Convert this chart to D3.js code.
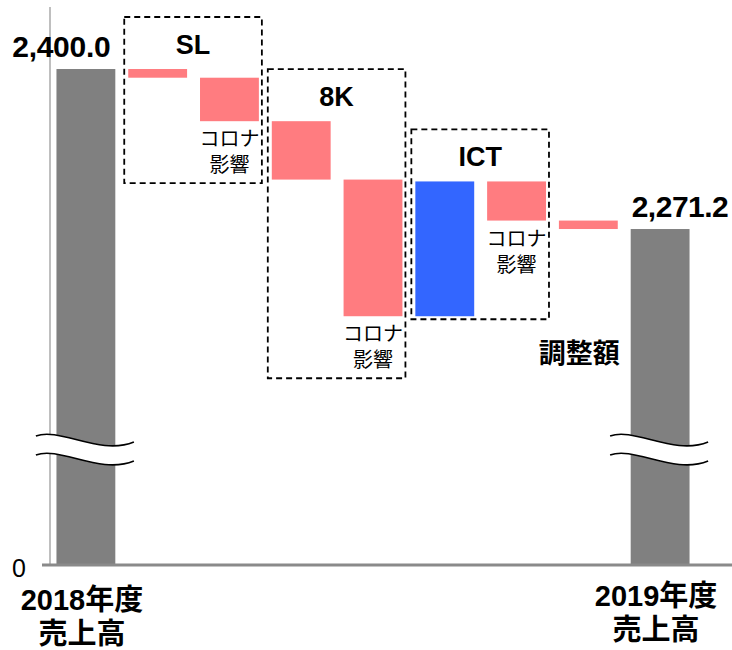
<!DOCTYPE html>
<html><head><meta charset="utf-8">
<script src="https://cdn.jsdelivr.net/npm/d3@7"></script>
<style>
html,body{margin:0;padding:0;background:#fff;}
svg{display:block;}
</style></head>
<body>
<svg id="chart" width="732" height="650"></svg>
<script>
// ---- data ----
const categories = ["2018年度売上高","SL","SLコロナ影響","8K","8Kコロナ影響","ICT","ICTコロナ影響","調整額","2019年度売上高"];
const values = [2400.0, -7.0, -35.0, -47.0, -110.0, 108.5, -31.5, -6.8, 2271.2];
const kinds = ["total","delta","delta","delta","delta","delta","delta","delta","total"];
const notes = ["", "", "コロナ|影響", "", "コロナ|影響", "", "コロナ|影響", "調整額", ""];
const totalLabels = [["2018年度","売上高"], ["2019年度","売上高"]];
const groupNames = ["SL","8K","ICT"];
const groupFrom = [1,3,5];
const groupTo = [2,4,6];
const yTickLabels = ["0"];

// ---- layout ----
const svg = d3.select("#chart");
const LAT = "'Liberation Sans', Arial, sans-serif";
const CJK = "'Liberation Sans', 'Noto Sans CJK JP', sans-serif";
const colors = {total:"#808080", down:"#FF7C80", up:"#3366FF"};

const x = d3.scaleBand().domain(categories).range([50, 696]).paddingInner(0.18).paddingOuter(0.09);
const bw = x.bandwidth();
// broken axis: lower part compressed
const y = d3.scaleLinear().domain([0, 2100, 2450]).range([565, 441.7, 6.9]);

// compute waterfall
let level = 0;
const bars = categories.map((c,i)=>{
  let lo, hi, color;
  if (kinds[i]==="total"){ lo=0; hi=values[i]; level=values[i]; color=colors.total; }
  else { const s=level, e=level+values[i]; lo=Math.min(s,e); hi=Math.max(s,e); level=e; color = values[i]<0?colors.down:colors.up; }
  return {c, i, lo, hi, color, v: values[i]};
});

// axis line
svg.append("line").attr("x1",50).attr("x2",50).attr("y1",y(2450)).attr("y2",y(0))
  .attr("stroke","#aaaaaa").attr("stroke-width",1.5);

// bars
svg.selectAll("rect.bar").data(bars).enter().append("rect")
  .attr("class","bar")
  .attr("x",d=>x(d.c)).attr("width",bw)
  .attr("y",d=>y(d.hi)).attr("height",d=>y(d.lo)-y(d.hi))
  .attr("fill",d=>d.color);

// baseline
svg.append("line").attr("x1",42).attr("x2",732).attr("y1",y(0)).attr("y2",y(0))
  .attr("stroke","#8a8a8a").attr("stroke-width",3);

// y tick
svg.append("text").attr("x",26).attr("y",y(0)+12).attr("text-anchor","end")
  .attr("font-family",LAT).attr("font-size",25).text(yTickLabels[0]);

// break marks on total bars
const yb = 436;
bars.filter(d=>d.i===0||d.i===categories.length-1).forEach(d=>{
  const cx = x(d.c)+bw/2;
  const x0=cx-50, x3=cx+48;
  const wave = (off)=>`M${x0},${yb+off} C${x0+24},${yb-9+off} ${x0+64},${yb+20+off} ${x3},${yb+6+off}`;
  const p1 = `M${x0},${yb} C${x0+24},${yb-9} ${x0+64},${yb+20} ${x3},${yb+6} L${x3},${yb+6+19} C${x0+64},${yb+20+19} ${x0+24},${yb-9+19} ${x0},${yb+19} Z`;
  svg.append("path").attr("d",p1).attr("fill","#fff").attr("stroke","none");
  svg.append("path").attr("d",wave(0)).attr("fill","none").attr("stroke","#000").attr("stroke-width",1.6);
  svg.append("path").attr("d",wave(19)).attr("fill","none").attr("stroke","#000").attr("stroke-width",1.6);
});

// total value labels
const fmt = d3.format(",.1f");
const first = bars[0], last = bars[bars.length-1];
svg.append("text").attr("x",x(first.c)+bw-5).attr("y",y(first.hi)-12).attr("text-anchor","end")
  .attr("font-family",LAT).attr("font-weight","bold").attr("font-size",30).attr("letter-spacing",-0.3).text(fmt(first.v));
svg.append("text").attr("x",x(last.c)+1).attr("y",y(last.hi)-12).attr("text-anchor","start")
  .attr("font-family",LAT).attr("font-weight","bold").attr("font-size",30).attr("letter-spacing",-0.5).text(fmt(last.v));

// category labels for totals
[first,last].forEach((d,k)=>{
  const t = svg.append("text").attr("text-anchor","middle").attr("font-family",CJK)
    .attr("font-weight","bold").attr("font-size",29);
  const cx = x(d.c)+bw/2-4;
  const dy = k===0 ? 45 : 41;
  totalLabels[k].forEach((s,j)=>{
    t.append("tspan").attr("x",cx).attr("y",y(0)+dy+j*34).text(s);
  });
});

// notes under delta bars
bars.forEach(d=>{
  const n = notes[d.i]; if(!n) return;
  const cx = x(d.c)+bw/2;
  if (n.includes("|")){
    const lines = n.split("|");
    lines.forEach((s,j)=>svg.append("text").attr("text-anchor","middle")
      .attr("font-family",CJK).attr("font-size",20)
      .attr("x",cx).attr("y",y(d.lo)+25+j*26).text(s));
  } else {
    svg.append("text").attr("x",cx-9).attr("y",y(d.lo)+134).attr("text-anchor","middle")
      .attr("font-family",CJK).attr("font-weight","bold").attr("font-size",27).text(n);
  }
});

// group boxes
groupNames.forEach((g,k)=>{
  const gb = bars.slice(groupFrom[k], groupTo[k]+1);
  const left = x(gb[0].c)-4, right = x(gb[gb.length-1].c)+bw+3;
  const topY = d3.min(gb, d=>y(d.hi));
  const lowBar = d3.max(gb, d=>y(d.lo));
  const noteBottom = d3.max(gb, d=>notes[d.i].includes("|") ? y(d.lo)+62 : 0);
  const bottom = Math.max(lowBar+3, noteBottom);
  const titleY = topY - 15;
  const top = titleY - 37;
  svg.append("rect").attr("x",left).attr("y",top).attr("width",right-left).attr("height",bottom-top)
    .attr("fill","none").attr("stroke","#000").attr("stroke-width",1.8).attr("stroke-dasharray","6,4");
  svg.append("text").attr("x",(left+right)/2).attr("y",titleY).attr("text-anchor","middle")
    .attr("font-family",LAT).attr("font-weight","bold").attr("font-size",27).text(g);
});
</script>
</body></html>
